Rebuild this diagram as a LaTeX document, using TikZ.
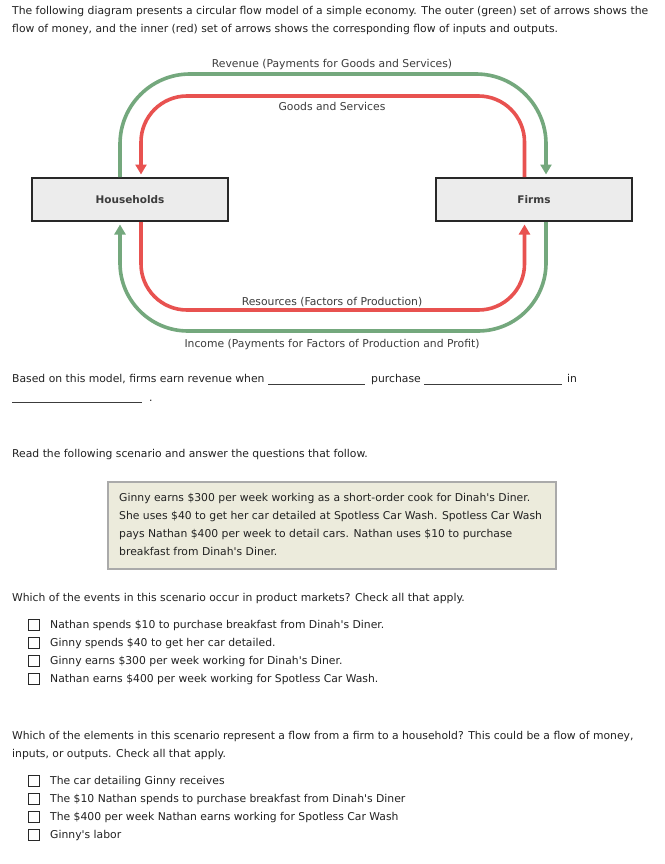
\documentclass[tikz,border=0pt]{standalone}
\usepackage{fontspec}
\setmainfont{DejaVu Sans}
\usetikzlibrary{arrows.meta}
\definecolor{gflow}{RGB}{116,168,125}
\definecolor{rflow}{RGB}{232,82,80}
\definecolor{txtcol}{RGB}{34,34,34}
\definecolor{lblcol}{RGB}{60,60,60}
\definecolor{boxfill}{RGB}{236,236,236}
\definecolor{boxborder}{RGB}{40,40,40}
\definecolor{scenfill}{RGB}{236,235,220}
\definecolor{scenborder}{RGB}{170,170,170}
\begin{document}
\begin{tikzpicture}[x=1pt,y=-1pt,
  font=\fontsize{10.8}{18}\selectfont,
  txt/.style={anchor=base west, inner sep=0pt, text=txtcol},
  lbl/.style={anchor=base, inner sep=0pt, text=lblcol},
  agent/.style={draw=boxborder, line width=2pt, fill=boxfill, minimum width=196pt, minimum height=43pt, inner sep=0pt, font=\fontsize{10.5}{12}\selectfont\bfseries, text=lblcol},
  flow/.style={line width=3.6pt, -{Triangle[length=10pt,width=11pt]}, shorten >=2.5pt},
  cbox/.style={draw=boxborder, line width=0.9pt, fill=white, minimum size=11pt, inner sep=0pt},
  blank/.style={draw=lblcol, line width=0.8pt},
  scenbox/.style={draw=scenborder, line width=1.5pt, fill=scenfill, minimum width=448pt, minimum height=87pt, inner sep=0pt}]
\useasboundingbox (0,0) rectangle (664,864);
\fill[white] (0,0) rectangle (664,864);

% intro
\node[txt] (i1) at (12,15) {The following diagram presents a circular flow model of a simple economy. The outer (green) set of arrows shows the};
\node[txt] (i2) at (12,33) {flow of money, and the inner (red) set of arrows shows the corresponding flow of inputs and outputs.};

% agents
\node[agent] (hh) at (130,199.5) {Households};
\node[agent] (fm) at (534,199.5) {Firms};

\coordinate (gL) at (120,0);
\coordinate (rL) at (141,0);
\coordinate (rR) at (524.5,0);
\coordinate (gR) at (546,0);
\coordinate (gT) at (0,74);
\coordinate (rT) at (0,96);
\coordinate (rB) at (0,310);
\coordinate (gB) at (0,331);

\draw[flow, gflow, rounded corners=70pt] (hh.north -| gL) -- (gL |- gT) -- (gR |- gT) -- (fm.north -| gR);
\draw[flow, rflow, rounded corners=46pt] (fm.north -| rR) -- (rR |- rT) -- (rL |- rT) -- (hh.north -| rL);
\draw[flow, rflow, rounded corners=46pt] (hh.south -| rL) -- (rL |- rB) -- (rR |- rB) -- (fm.south -| rR);
\draw[flow, gflow, rounded corners=68pt] (fm.south -| gR) -- (gR |- gB) -- (gL |- gB) -- (hh.south -| gL);

\node[lbl] (lrev) at (332,68) {Revenue (Payments for Goods and Services)};
\node[lbl] (lgs) at (332,111) {Goods and Services};
\node[lbl] (lres) at (332,305) {Resources (Factors of Production)};
\node[lbl] (linc) at (332,347) {Income (Payments for Factors of Production and Profit)};

% fill in the blanks
\node[txt] (b1) at (12,382) {Based on this model, firms earn revenue when};
\draw[blank] (268,384) -- (365,384);
\node[txt] (b2) at (371,382) {purchase};
\draw[blank] (424,384) -- (562,384);
\node[txt] (b3) at (567,382) {in};
\draw[blank] (12,402) -- (142,402);
\node[txt] (b4) at (149,401) {.};

\node[txt] (r1) at (12,457) {Read the following scenario and answer the questions that follow.};

% scenario
\node[scenbox] (scen) at (332,525.5) {};
\node[txt] (s1) at (119,501) {Ginny earns \$300 per week working as a short-order cook for Dinah\textquotesingle s Diner.};
\node[txt] (s2) at (119,519.3) {She uses \$40 to get her car detailed at Spotless Car Wash. Spotless Car Wash};
\node[txt] (s3) at (119,537.6) {pays Nathan \$400 per week to detail cars. Nathan uses \$10 to purchase};
\node[txt] (s4) at (119,555.9) {breakfast from Dinah\textquotesingle s Diner.};

% question 1
\node[txt] (q1) at (12,601) {Which of the events in this scenario occur in product markets? Check all that apply.};
\node[cbox] (c1) at (34,624.5) {};
\node[txt] (a1) at (50,628) {Nathan spends \$10 to purchase breakfast from Dinah\textquotesingle s Diner.};
\node[cbox] (c2) at (34,642.5) {};
\node[txt] (a2) at (50,646) {Ginny spends \$40 to get her car detailed.};
\node[cbox] (c3) at (34,660.5) {};
\node[txt] (a3) at (50,664) {Ginny earns \$300 per week working for Dinah\textquotesingle s Diner.};
\node[cbox] (c4) at (34,678.5) {};
\node[txt] (a4) at (50,682) {Nathan earns \$400 per week working for Spotless Car Wash.};

% question 2
\node[txt] (q2a) at (12,739) {Which of the elements in this scenario represent a flow from a firm to a household? This could be a flow of money,};
\node[txt] (q2b) at (12,757) {inputs, or outputs. Check all that apply.};
\node[cbox] (d1) at (34,780.5) {};
\node[txt] (e1) at (50,784) {The car detailing Ginny receives};
\node[cbox] (d2) at (34,798.5) {};
\node[txt] (e2) at (50,802) {The \$10 Nathan spends to purchase breakfast from Dinah\textquotesingle s Diner};
\node[cbox] (d3) at (34,816.5) {};
\node[txt] (e3) at (50,820) {The \$400 per week Nathan earns working for Spotless Car Wash};
\node[cbox] (d4) at (34,834.5) {};
\node[txt] (e4) at (50,838) {Ginny\textquotesingle s labor};
\end{tikzpicture}
\end{document}
